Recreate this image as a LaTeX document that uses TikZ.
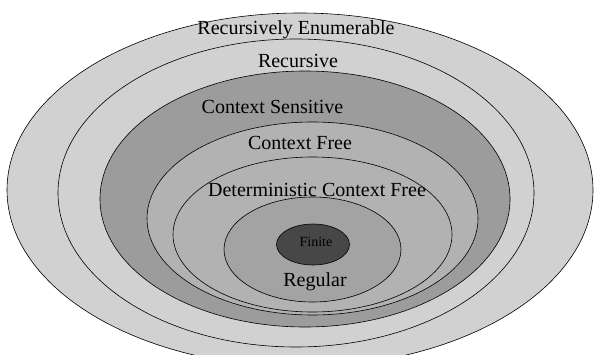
\documentclass[tikz,border=0pt]{standalone}
\usepackage{fontspec}
\setmainfont{Liberation Serif}
\usetikzlibrary{shapes.geometric}

\definecolor{lightFill}{gray}{0.82}
\definecolor{sensFill}{gray}{0.61}
\definecolor{freeFill}{gray}{0.70}
\definecolor{regFill}{gray}{0.64}
\definecolor{finFill}{gray}{0.28}

\begin{document}
\begin{tikzpicture}[
    x=1pt, y=1pt,
    font=\fontsize{20}{24}\selectfont,
    set/.style={ellipse, draw, line width=0.6pt, inner sep=0pt},
    lang/.style={inner sep=0pt, text=black}
]
\useasboundingbox (0,0) rectangle (594,354);
\clip (0,0) rectangle (594,354);
% nested classes, outermost first
\node[set, fill=lightFill, minimum width=586pt, minimum height=354pt] (re) at (300,164) {};
\node[set, fill=lightFill, minimum width=476pt, minimum height=308pt] (rec) at (296,161) {};
\node[set, fill=sensFill, minimum width=410pt, minimum height=256pt] (cs) at (305,155) {};
\node[set, fill=freeFill, minimum width=331pt, minimum height=193pt] (cf) at (312.5,135.5) {};
\node[set, fill=freeFill, minimum width=279pt, minimum height=155pt] (dcf) at (312.5,119.5) {};
\node[set, fill=regFill, minimum width=177pt, minimum height=105pt] (reg) at (312.5,104.5) {};
\node[set, fill=finFill, minimum width=73pt, minimum height=41pt] (fin) at (313,109.5) {};

% labels
\node[lang] (reLabel) at (296,324) {Recursively Enumerable};
\node[lang] (recLabel) at (298,293) {Recursive};
\node[lang] (csLabel) at (272.5,247) {Context Sensitive};
\node[lang] (cfLabel) at (300,211) {Context Free};
\node[lang] (dcfLabel) at (317,164) {Deterministic Context Free};
\node[lang, font=\fontsize{14}{16}\selectfont] (finLabel) at (316,112) {Finite};
\node[lang] (regLabel) at (315,72) {Regular};
\end{tikzpicture}
\end{document}
